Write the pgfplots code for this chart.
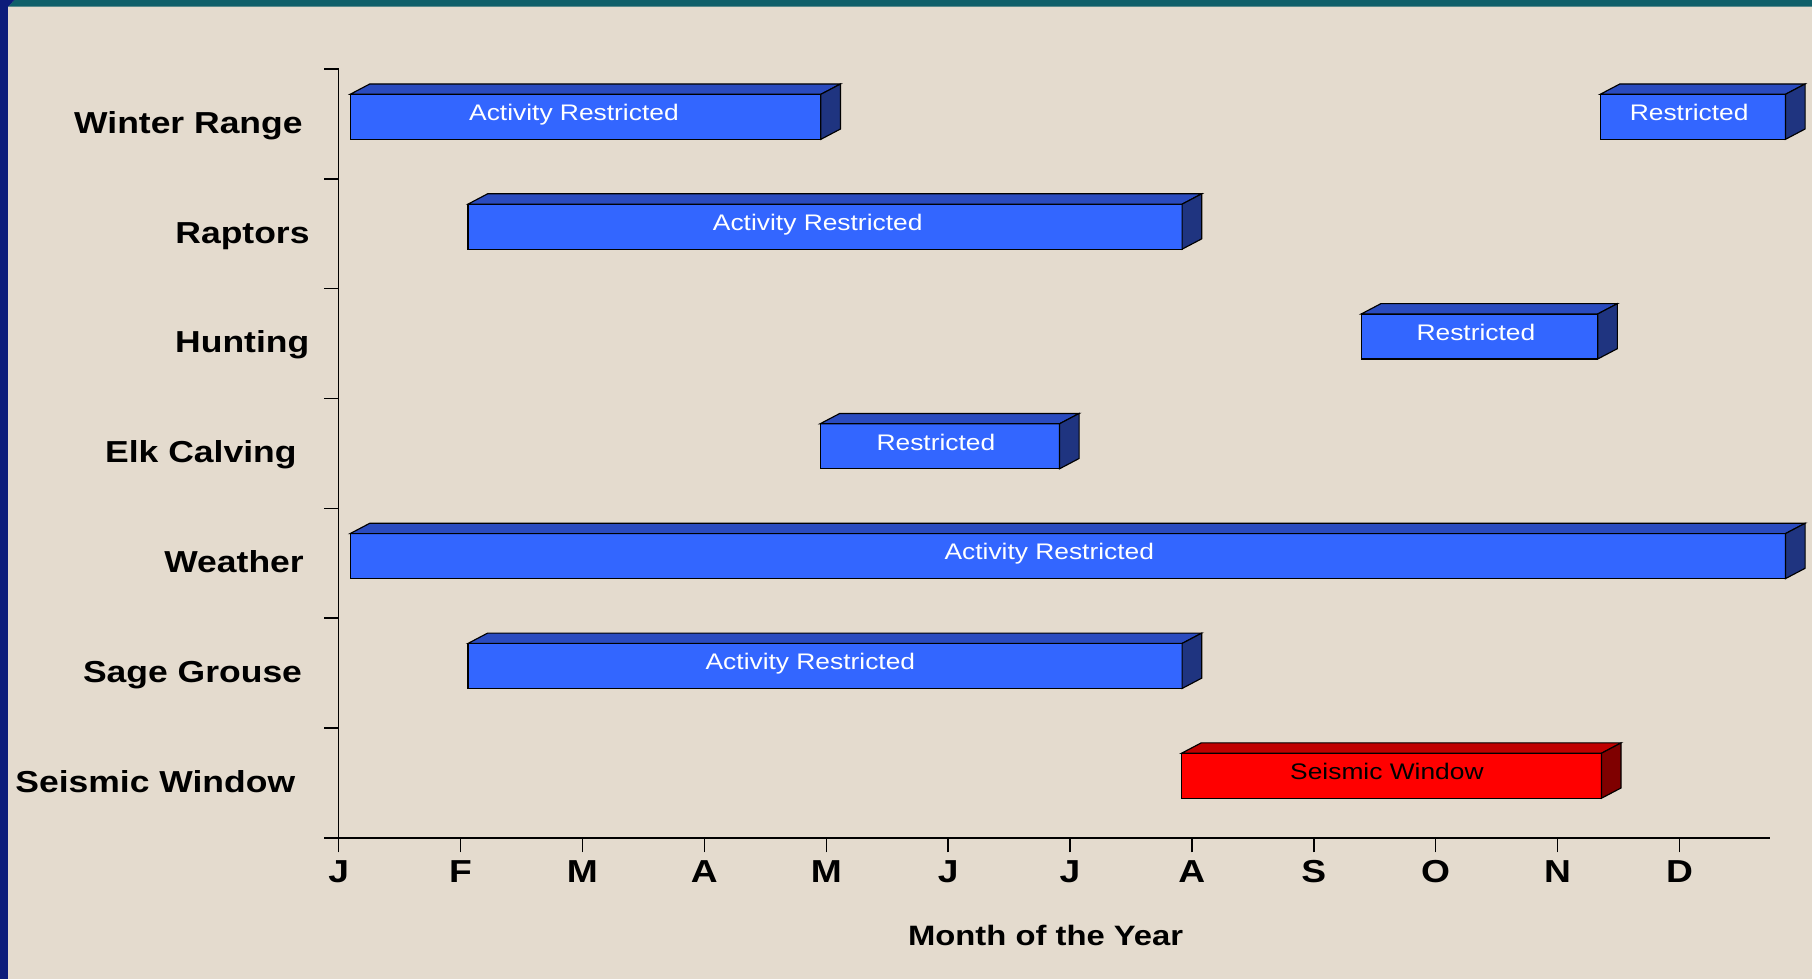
\documentclass[border=0pt]{standalone}
\usepackage{pgfplots}
\pgfplotsset{compat=1.18}
\usepackage{pgfplotstable}
\usepackage{fontspec}
\setmainfont{Liberation Sans}
\newfontfamily\chartfont[FakeStretch=1.17]{Liberation Sans}

\definecolor{bgpaper}{HTML}{E4DBCE}
\definecolor{navystrip}{HTML}{0C1C7A}
\definecolor{tealstrip}{HTML}{0F5F69}
\definecolor{blufront}{HTML}{3366FF}
\definecolor{blutop}{HTML}{2A4BBF}
\definecolor{bluside}{HTML}{1F3480}
\definecolor{redfront}{HTML}{FF0000}
\definecolor{redtop}{HTML}{C00000}
\definecolor{redside}{HTML}{7F0000}

% rows: 6 Winter Range ... 0 Seismic Window; start/end in months from 1 Jan
\pgfplotstableread{
row start end
6 0.094 3.956
6 10.35 11.87
5 1.061 6.92
4 8.39 10.33
3 3.95 5.914
2 0.094 11.87
1 1.061 6.92
}\restrictedbars
\pgfplotstableread{
row start end
0 6.915 10.36
}\seismicbars

% one 3D bar: front face, top face, side face
\newcommand{\ganttbar}[4]{%
  \pgfmathsetmacro\yl{#1-0.14}%
  \pgfmathsetmacro\yh{#1+0.27}%
  \pgfmathsetmacro\yt{#1+0.27+0.094}%
  \pgfmathsetmacro\yr{#1-0.14+0.094}%
  \pgfmathsetmacro\xs{#2+0.161}%
  \pgfmathsetmacro\xe{#3+0.161}%
  \edef\temp{%
    \noexpand\addplot[fill=#4front, draw=black, line width=0.4pt, line join=miter]
      coordinates {(#2,\yl) (#3,\yl) (#3,\yh) (#2,\yh)} -- cycle;
    \noexpand\addplot[fill=#4top, draw=black, line width=0.4pt, line join=miter]
      coordinates {(#2,\yh) (#3,\yh) (\xe,\yt) (\xs,\yt)} -- cycle;
    \noexpand\addplot[fill=#4side, draw=black, line width=0.4pt, line join=miter]
      coordinates {(#3,\yl) (\xe,\yr) (\xe,\yt) (#3,\yh)} -- cycle;
  }\temp
}
\newcommand{\drawbars}[2]{%
  \pgfplotstablegetrowsof{#1}%
  \pgfmathtruncatemacro\nbars{\pgfplotsretval-1}%
  \pgfplotsforeachungrouped \i in {0,...,\nbars}{%
    \pgfplotstablegetelem{\i}{row}\of#1\let\brow\pgfplotsretval
    \pgfplotstablegetelem{\i}{start}\of#1\let\bstart\pgfplotsretval
    \pgfplotstablegetelem{\i}{end}\of#1\let\bend\pgfplotsretval
    \ganttbar{\brow}{\bstart}{\bend}{#2}%
  }%
}

\newcommand{\catlabel}{\chartfont\bfseries\fontsize{10.5}{12}\selectfont}
\newcommand{\monthlabel}{\chartfont\bfseries\fontsize{11}{13}\selectfont}
\newcommand{\barlabel}{\chartfont\fontsize{7.8}{9}\selectfont}

\begin{document}
\begin{tikzpicture}[
    month/.style={anchor=base, inner sep=0pt, yshift=-15.3pt, font=\monthlabel},
    cat/.style={anchor=base east, inner sep=0pt, font=\catlabel},
    bartext/.style={anchor=base, white, font=\barlabel},
  ]
  \fill[bgpaper] (0,0) rectangle (627.2pt,338.8pt);
  \fill[navystrip] (0,0) rectangle (2.8pt,338.8pt);
  \fill[tealstrip] (2.8pt,336.5pt) -- (5pt,338.8pt) -- (627.2pt,338.8pt) -- (627.2pt,336.5pt) -- cycle;
  \fill[navystrip] (2.8pt,336.5pt) -- (5pt,338.8pt) -- (2.8pt,338.8pt) -- cycle;
  \begin{axis}[
    at={(117.24pt,48.8pt)}, anchor=south west,
    scale only axis,
    width=495.3pt, height=266.1pt,
    xmin=0, xmax=11.74, ymin=-0.5, ymax=6.5,
    clip=false,
    axis x line=bottom, axis y line=left,
    axis line style={-, line width=0.5pt, black},
    xtick={0,...,11}, xticklabels={},
    ytick={-0.5,0.5,...,6.5}, yticklabels={},
    tick align=outside, major tick length=5pt,
    tick style={line width=0.5pt, black},
  ]
    \drawbars{\restrictedbars}{blu}
    \drawbars{\seismicbars}{red}

    % bar texts
    \node[bartext] at (axis cs:1.93,6.03) {Activity Restricted};
    \node[bartext] at (axis cs:11.08,6.03) {Restricted};
    \node[bartext] at (axis cs:3.93,5.03) {Activity Restricted};
    \node[bartext] at (axis cs:9.33,4.03) {Restricted};
    \node[bartext] at (axis cs:4.90,3.03) {Restricted};
    \node[bartext] at (axis cs:5.83,2.03) {Activity Restricted};
    \node[bartext] at (axis cs:3.87,1.03) {Activity Restricted};
    \node[bartext, black] at (axis cs:8.60,0.03) {Seismic Window};

    % category names
    \node[cat, xshift=-12.3pt] at (axis cs:0,5.915) {Winter Range};
    \node[cat, xshift=-9.9pt] at (axis cs:0,4.915) {Raptors};
    \node[cat, xshift=-10.0pt] at (axis cs:0,3.915) {Hunting};
    \node[cat, xshift=-14.4pt] at (axis cs:0,2.915) {Elk Calving};
    \node[cat, xshift=-11.9pt] at (axis cs:0,1.915) {Weather};
    \node[cat, xshift=-12.5pt] at (axis cs:0,0.915) {Sage Grouse};
    \node[cat, xshift=-14.9pt] at (axis cs:0,-0.085) {Seismic Window};

    % month letters
    \node[month] at (axis cs:0,-0.5) {J};
    \node[month] at (axis cs:1,-0.5) {F};
    \node[month] at (axis cs:2,-0.5) {M};
    \node[month] at (axis cs:3,-0.5) {A};
    \node[month] at (axis cs:4,-0.5) {M};
    \node[month] at (axis cs:5,-0.5) {J};
    \node[month] at (axis cs:6,-0.5) {J};
    \node[month] at (axis cs:7,-0.5) {A};
    \node[month] at (axis cs:8,-0.5) {S};
    \node[month] at (axis cs:9,-0.5) {O};
    \node[month] at (axis cs:10,-0.5) {N};
    \node[month] at (axis cs:11,-0.5) {D};
    \node[anchor=base, inner sep=0pt, yshift=-37.4pt, font=\chartfont\bfseries\fontsize{9.7}{11}\selectfont] at (axis cs:5.80,-0.5) {Month of the Year};
  \end{axis}
\end{tikzpicture}
\end{document}
